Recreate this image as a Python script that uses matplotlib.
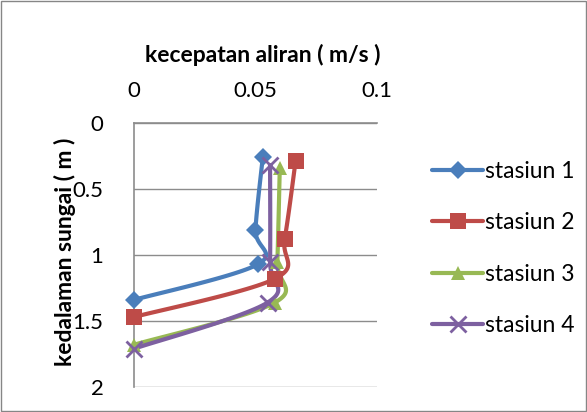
import numpy as np
import matplotlib
matplotlib.use("Agg")
import matplotlib.pyplot as plt
from matplotlib.patches import Rectangle

plt.rcParams['font.family'] = ['Lato', 'DejaVu Sans']

# kecepatan (m/s) dan kedalaman (m) tiap stasiun
stasiun_names = ["stasiun 1", "stasiun 2", "stasiun 3", "stasiun 4"]
v_st1 = [0.053, 0.050, 0.051, 0.0]
d_st1 = [0.26, 0.81, 1.07, 1.34]
v_st2 = [0.0665, 0.062, 0.058, 0.0]
d_st2 = [0.29, 0.88, 1.18, 1.47]
v_st3 = [0.060, 0.059, 0.058, 0.0]
d_st3 = [0.34, 1.05, 1.36, 1.68]
v_st4 = [0.056, 0.056, 0.055, 0.0]
d_st4 = [0.32, 1.05, 1.36, 1.71]

x_ticks = [0, 0.05, 0.1]
y_ticks = [0, 0.5, 1, 1.5, 2]

colors = ["#4A7EBB", "#BE4B48", "#98B954", "#7D60A0"]
markers = ["D", "s", "^", "x"]
msizes = [9, 11, 10, 11]


def smooth(xs, ys, n=30):
    # catmull-rom curve through the points (like excel's smoothed line)
    pts = np.column_stack([xs, ys]).astype(float)
    p = np.vstack([pts[0], pts, pts[-1]])
    out = []
    for i in range(1, len(p) - 2):
        p0, p1, p2, p3 = p[i - 1], p[i], p[i + 1], p[i + 2]
        t = np.linspace(0, 1, n)[:, None]
        seg = 0.5 * ((2 * p1) + (-p0 + p2) * t
                     + (2 * p0 - 5 * p1 + 4 * p2 - p3) * t ** 2
                     + (-p0 + 3 * p1 - 3 * p2 + p3) * t ** 3)
        out.append(seg)
    out = np.vstack(out)
    return out[:, 0], out[:, 1]


fig = plt.figure(figsize=(5.87, 4.12), dpi=100)
ax = fig.add_axes([0.2283, 0.0607, 0.4139, 0.6408])

series = [(v_st1, d_st1), (v_st2, d_st2), (v_st3, d_st3), (v_st4, d_st4)]
for (v, d), name, c, m, ms in zip(series, stasiun_names, colors, markers, msizes):
    sx, sy = smooth(v, d)
    ax.plot(sx, sy, color=c, lw=3, solid_capstyle='round', zorder=3)
    ax.plot(v, d, linestyle='none', marker=m, color=c, markersize=ms,
            markeredgewidth=2 if m == 'x' else 0, zorder=4, clip_on=False)
    # legend handle
    ax.plot([], [], color=c, lw=3, marker=m, markersize=ms,
            markeredgewidth=2 if m == 'x' else 0, label=name,
            solid_capstyle='round')

ax.set_xlim(0, 0.1)
ax.set_ylim(2, 0)
ax.xaxis.tick_top()
ax.set_xticks(x_ticks)
ax.set_xticklabels(["0", "0.05", "0.1"])
ax.set_yticks(y_ticks)
ax.set_yticklabels(["0", "0.5", "1", "1.5", "2"])
ax.tick_params(length=0, labelsize=16, pad=16)
ax.tick_params(axis='y', pad=22)
ax.grid(axis='y', color='#8C8C8C', lw=1)
ax.set_axisbelow(True)

for side in ['right', 'bottom']:
    ax.spines[side].set_visible(False)
for side in ['left', 'top']:
    ax.spines[side].set_color('#8C8C8C')
    ax.spines[side].set_linewidth(1.2)

fig.text(0.448, 0.866, "kecepatan aliran ( m/s )", ha='center', va='center',
         fontsize=16.5, fontweight='bold')
fig.text(0.11, 0.39, "kedalaman sungai ( m )", ha='center', va='center',
         fontsize=16.5, fontweight='bold', rotation=90)

leg = ax.legend(loc='upper left', bbox_to_anchor=(1.19, 0.89), frameon=False,
                fontsize=16.5, handlelength=2.2, handletextpad=0.1,
                labelspacing=1.32, borderaxespad=0)

# chart border
fig.patches.append(Rectangle((0.002, 0.002), 0.996, 0.996, transform=fig.transFigure,
                             fill=False, edgecolor='#868686', lw=1))

fig.savefig("out.png", dpi=100)
